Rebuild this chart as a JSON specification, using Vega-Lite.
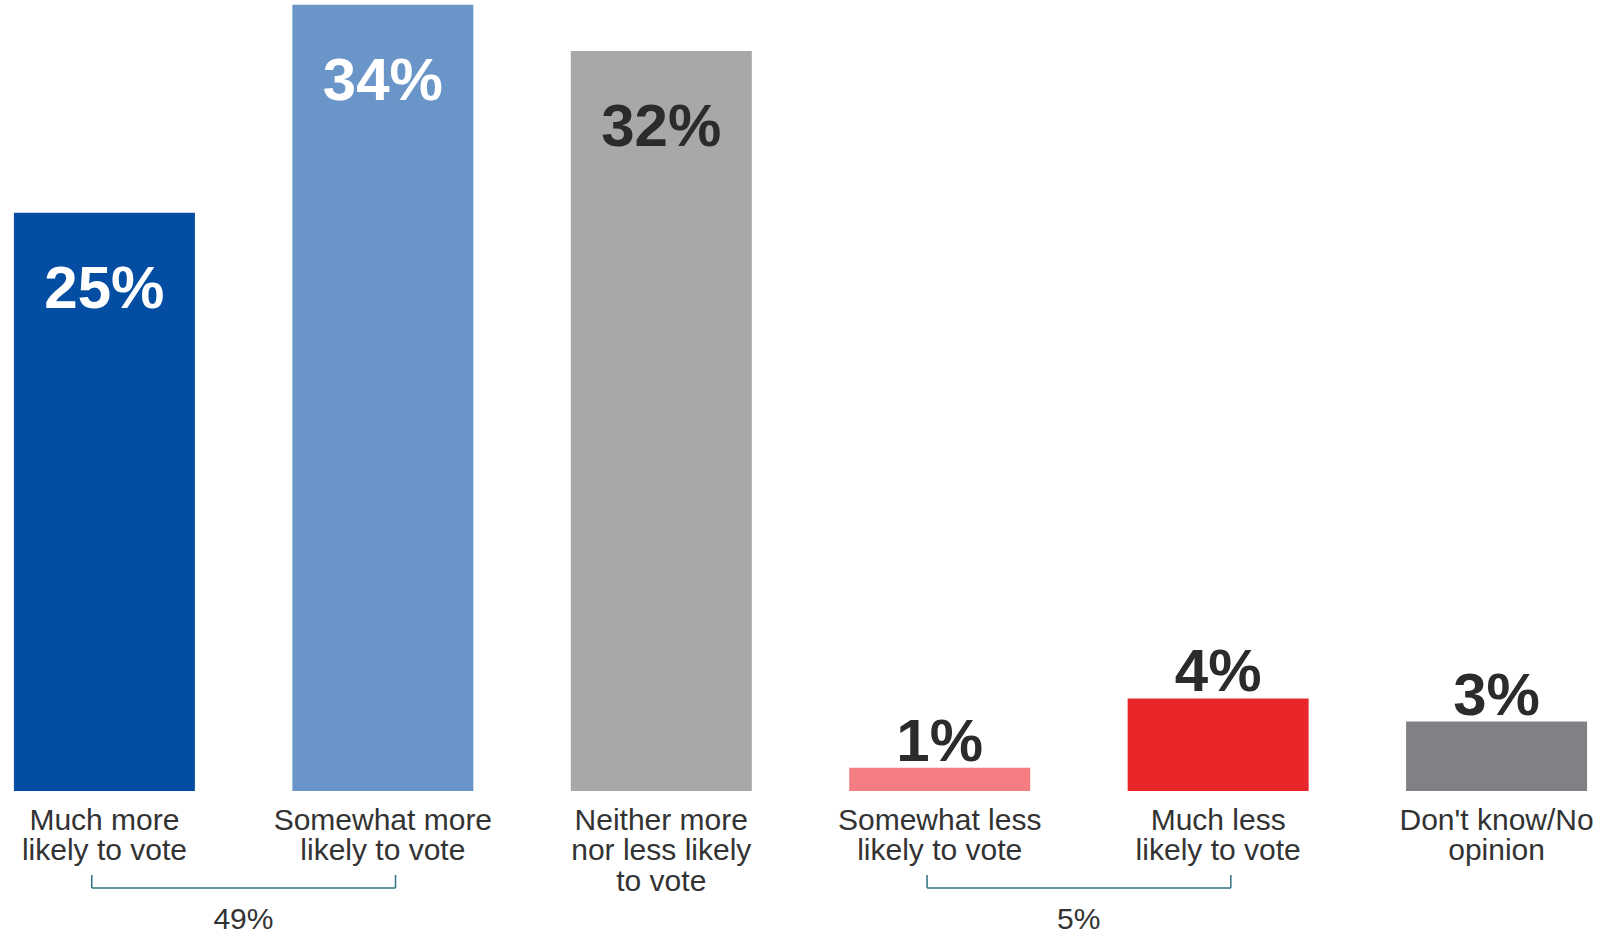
{
  "$schema": "https://vega.github.io/schema/vega-lite/v6.json",
  "width": 1601,
  "height": 791,
  "autosize": {"type": "none"},
  "padding": {"left": 0, "top": 0, "right": 23, "bottom": 145},
  "config": {"view": {"stroke": null}, "font": "Liberation Sans"},
  "datasets": {
    "bars": [
      {"cat": "Much more likely to vote", "label": "Much more\nlikely to vote", "value": 25, "pct": "25%"},
      {"cat": "Somewhat more likely to vote", "label": "Somewhat more\nlikely to vote", "value": 34, "pct": "34%"},
      {"cat": "Neither more nor less likely to vote", "label": "Neither more\nnor less likely\nto vote", "value": 32, "pct": "32%"},
      {"cat": "Somewhat less likely to vote", "label": "Somewhat less\nlikely to vote", "value": 1, "pct": "1%"},
      {"cat": "Much less likely to vote", "label": "Much less\nlikely to vote", "value": 4, "pct": "4%"},
      {"cat": "Don't know/No opinion", "label": "Don't know/No\nopinion", "value": 3, "pct": "3%"}
    ],
    "brackets": [
      {"from": "Much more likely to vote", "to": "Somewhat more likely to vote", "total": "49%"},
      {"from": "Somewhat less likely to vote", "to": "Much less likely to vote", "total": "5%"}
    ]
  },
  "encoding": {
    "x": {
      "field": "cat",
      "type": "nominal",
      "sort": null,
      "axis": null,
      "scale": {
        "domain": ["Much more likely to vote", "Somewhat more likely to vote", "Neither more nor less likely to vote", "Somewhat less likely to vote", "Much less likely to vote", "Don't know/No opinion"],
        "paddingInner": 0.35,
        "paddingOuter": 0.05
      }
    }
  },
  "layer": [
    {
      "data": {"name": "bars"},
      "mark": {"type": "bar"},
      "encoding": {
        "y": {"field": "value", "type": "quantitative", "axis": null, "scale": {"domain": [0, 34.2], "nice": false, "zero": true}},
        "color": {
          "field": "cat",
          "type": "nominal",
          "legend": null,
          "scale": {
            "domain": ["Much more likely to vote", "Somewhat more likely to vote", "Neither more nor less likely to vote", "Somewhat less likely to vote", "Much less likely to vote", "Don't know/No opinion"],
            "range": ["#034EA2", "#6A95C8", "#A7A8AA", "#F37D81", "#E9262A", "#808184"]
          }
        }
      }
    },
    {
      "data": {"name": "bars"},
      "transform": [{"filter": "datum.value > 10"}],
      "mark": {"type": "text", "fontSize": 60, "fontWeight": "bold", "baseline": "alphabetic", "align": "center", "dy": 95},
      "encoding": {
        "y": {"field": "value", "type": "quantitative"},
        "text": {"field": "pct"},
        "color": {"condition": {"test": "datum.value == 32", "value": "#2B2B2B"}, "value": "#FFFFFF"}
      }
    },
    {
      "data": {"name": "bars"},
      "transform": [{"filter": "datum.value <= 10"}],
      "mark": {"type": "text", "fontSize": 60, "fontWeight": "bold", "baseline": "alphabetic", "align": "center", "dy": -7, "color": "#2B2B2B"},
      "encoding": {
        "y": {"field": "value", "type": "quantitative"},
        "text": {"field": "pct"}
      }
    },
    {
      "data": {"name": "bars"},
      "mark": {"type": "text", "fontSize": 30, "baseline": "alphabetic", "align": "center", "lineBreak": "\n", "lineHeight": 30.5, "color": "#333333"},
      "encoding": {
        "y": {"datum": -1.686, "type": "quantitative"},
        "text": {"field": "label"}
      }
    },
    {
      "data": {"name": "brackets"},
      "mark": {"type": "rule", "color": "#2F7082", "strokeWidth": 1.5},
      "encoding": {
        "x": {"field": "from", "type": "nominal", "bandPosition": 0.43},
        "x2": {"field": "to", "bandPosition": 0.57},
        "y": {"datum": -4.19, "type": "quantitative"}
      }
    },
    {
      "data": {"name": "brackets"},
      "mark": {"type": "rule", "color": "#2F7082", "strokeWidth": 1.5},
      "encoding": {
        "x": {"field": "from", "type": "nominal", "bandPosition": 0.43},
        "y": {"datum": -3.63, "type": "quantitative"},
        "y2": {"datum": -4.19}
      }
    },
    {
      "data": {"name": "brackets"},
      "mark": {"type": "rule", "color": "#2F7082", "strokeWidth": 1.5},
      "encoding": {
        "x": {"field": "to", "type": "nominal", "bandPosition": 0.57},
        "y": {"datum": -3.63, "type": "quantitative"},
        "y2": {"datum": -4.19}
      }
    },
    {
      "data": {"name": "brackets"},
      "mark": {"type": "text", "fontSize": 30, "baseline": "alphabetic", "align": "center", "dx": 139, "color": "#333333"},
      "encoding": {
        "x": {"field": "from", "type": "nominal", "bandPosition": 0.5},
        "y": {"datum": -5.95, "type": "quantitative"},
        "text": {"field": "total"}
      }
    }
  ]
}
